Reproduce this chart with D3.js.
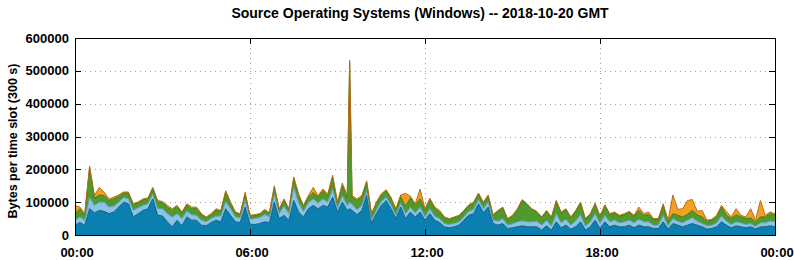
<!DOCTYPE html>
<html>
<head>
<meta charset="utf-8">
<script src="https://cdn.jsdelivr.net/npm/d3@7"></script>
<style>
  html, body { margin: 0; padding: 0; background: #ffffff; }
  svg { display: block; }
  text { font-family: "Liberation Sans", Arial, sans-serif; font-weight: bold; fill: #000; }
</style>
</head>
<body>
<svg id="chart" width="794" height="260"></svg>
<script>
// ---- data (values in thousands of bytes per 300 s slot) ----
const titleText = "Source Operating Systems (Windows) -- 2018-10-20 GMT";
const yAxisTitle = "Bytes per time slot (300 s)";
const seriesNames = ["os_a", "os_b", "os_c", "os_d"];
// sample times in minutes after midnight (10-minute steps, plus the 09:25 burst slot)
const slotMinutes = [...d3.range(0, 565, 10), 565, ...d3.range(570, 1441, 10)];

const seriesA = [ // dark blue (bottom)
  30,38,30,80,68,75,72,65,70,85,100,95,55,65,75,80,110,60,58,40,25,45,28,55,45,45,30,28,38,45,
  40,80,60,40,38,85,33,32,35,40,38,100,50,60,45,105,70,55,80,90,80,90,85,115,70,100,75,80,75,
  62,75,120,35,65,90,105,80,50,85,50,70,55,70,45,65,45,38,25,22,25,30,45,60,65,95,68,85,35,
  30,35,20,22,25,28,25,25,25,15,28,15,40,22,30,18,25,40,15,25,45,20,40,25,30,25,25,30,22,
  30,25,25,20,20,40,18,35,30,25,30,35,30,25,18,20,25,40,30,22,28,25,22,25,18,25,25,28,25
];
const seriesB = [ // light blue
  15,17,15,35,22,25,28,20,18,15,14,15,20,18,15,15,15,20,22,25,30,20,22,18,17,15,15,12,12,12,
  18,22,20,15,14,20,15,18,18,22,18,25,15,28,20,40,28,17,18,20,17,20,15,25,12,20,15,20,18,
  15,15,15,10,12,12,10,12,10,12,15,15,12,15,10,15,12,12,10,10,10,10,10,12,13,13,12,15,10,
  12,15,10,12,15,15,15,15,17,15,17,12,25,15,18,12,18,22,12,15,20,15,20,15,15,12,15,15,15,
  18,15,15,10,10,20,10,15,12,12,15,18,12,10,10,10,12,18,12,10,12,12,10,10,8,12,12,15,15
];
const seriesC = [ // green
  20,25,15,90,22,22,20,20,22,18,14,18,17,15,17,15,17,20,18,20,20,22,17,18,18,20,17,12,12,18,
  14,28,17,13,11,20,10,10,10,13,10,20,12,18,12,27,22,15,17,20,18,25,20,35,15,30,25,425,22,
  28,25,25,17,20,20,20,20,17,20,22,28,23,25,20,27,23,20,17,15,17,17,17,17,19,17,17,19,15,
  30,32,18,23,37,62,52,37,27,22,27,25,37,30,29,22,29,35,20,22,28,20,29,22,22,20,22,24,20,
  27,20,22,17,17,30,14,15,18,18,18,22,20,20,14,15,18,27,18,18,22,18,18,17,14,18,18,22,20
];
const seriesD = [ // orange (top)
  25,5,5,5,8,23,10,5,5,4,3,3,3,3,3,3,3,5,4,5,5,3,3,4,5,5,3,3,3,5,
  3,5,3,2,2,5,2,2,2,3,2,5,3,4,3,5,5,3,5,15,5,5,5,7,3,8,5,7,5,
  5,5,5,3,3,3,3,3,3,5,40,5,5,30,5,5,5,5,3,3,3,3,3,3,3,3,3,3,2,
  3,3,2,3,3,3,3,3,3,3,3,3,3,3,3,3,3,3,3,3,4,3,3,3,3,3,3,3,3,
  10,5,8,3,3,5,3,57,18,25,42,33,10,20,3,3,5,5,12,5,18,5,5,28,5,50,5,5,5
];
const yTicks = [0, 100000, 200000, 300000, 400000, 500000, 600000];
const xTickHours = [0, 6, 12, 18, 24];
const xTickLabels = ["00:00", "06:00", "12:00", "18:00", "00:00"];

// ---- layout ----
const W = 794, H = 260;
const plot = { left: 75, right: 775, top: 38, bottom: 235 };
const colors = ["#0a7fb0", "#8cc3e2", "#4f9a2c", "#f2a024"];
const strokes = ["#0b5f86", "#5f9fc4", "#3b7a1c", "#b86e10"];

const rows = seriesA.map((_, i) => ({
  t: slotMinutes[i] / 60,
  os_a: seriesA[i] * 1000,
  os_b: seriesB[i] * 1000,
  os_c: seriesC[i] * 1000,
  os_d: seriesD[i] * 1000
}));

const svg = d3.select("#chart");
const x = d3.scaleLinear().domain([0, 24]).range([plot.left, plot.right]);
const y = d3.scaleLinear().domain([0, 600000]).range([plot.bottom, plot.top]);

// grid
const grid = svg.append("g");
grid.selectAll("line.gy").data(yTicks.filter(v => v > 0 && v < 600000)).join("line")
  .attr("x1", plot.left).attr("x2", plot.right)
  .attr("y1", d => Math.round(y(d)) + 0.5).attr("y2", d => Math.round(y(d)) + 0.5)
  .attr("stroke", "#a0a0a0").attr("stroke-width", 1).attr("stroke-dasharray", "1,4");
grid.selectAll("line.gx").data(xTickHours.filter(h => h > 0 && h < 24)).join("line")
  .attr("x1", d => Math.round(x(d)) + 0.5).attr("x2", d => Math.round(x(d)) + 0.5)
  .attr("y1", plot.top).attr("y2", plot.bottom)
  .attr("stroke", "#a0a0a0").attr("stroke-width", 1).attr("stroke-dasharray", "1,4");

// stacked areas
const stack = d3.stack().keys(seriesNames);
const layers = stack(rows);
const area = d3.area().x(d => x(d.data.t)).y0(d => y(d[0])).y1(d => y(d[1]));
const topLine = d3.line().x(d => x(d.data.t)).y(d => y(d[1]));
const g = svg.append("g");
layers.forEach((layer, k) => {
  g.append("path").datum(layer).attr("d", area).attr("fill", colors[k]).attr("stroke", "none");
});
layers.forEach((layer, k) => {
  g.append("path").datum(layer).attr("d", topLine).attr("fill", "none")
    .attr("stroke", strokes[k]).attr("stroke-width", 1);
});

// frame
svg.append("rect").attr("x", plot.left + 0.5).attr("y", plot.top + 0.5)
  .attr("width", plot.right - plot.left).attr("height", plot.bottom - plot.top)
  .attr("fill", "none").attr("stroke", "#000").attr("stroke-width", 1);

// ticks (inward, mirrored)
const ticks = svg.append("g").attr("stroke", "#000").attr("stroke-width", 1);
yTicks.forEach(v => {
  const yy = Math.round(y(v)) + 0.5;
  ticks.append("line").attr("x1", plot.left).attr("x2", plot.left + 6).attr("y1", yy).attr("y2", yy);
  ticks.append("line").attr("x1", plot.right - 6).attr("x2", plot.right).attr("y1", yy).attr("y2", yy);
});
xTickHours.forEach(h => {
  const xx = Math.round(x(h)) + 0.5;
  ticks.append("line").attr("x1", xx).attr("x2", xx).attr("y1", plot.bottom).attr("y2", plot.bottom - 6);
  ticks.append("line").attr("x1", xx).attr("x2", xx).attr("y1", plot.top).attr("y2", plot.top + 6);
});

// y labels
svg.append("g").selectAll("text").data(yTicks).join("text")
  .attr("x", plot.left - 6).attr("y", d => y(d))
  .attr("text-anchor", "end").attr("dominant-baseline", "central")
  .style("font-size", "13px").text(d => d);

// x labels
svg.append("g").selectAll("text").data(xTickHours).join("text")
  .attr("x", d => x(d) + 2).attr("y", 252)
  .attr("text-anchor", "middle").attr("dominant-baseline", "central")
  .style("font-size", "13px").text((d, i) => xTickLabels[i]);

// title
svg.append("text").attr("x", 420).attr("y", 13)
  .attr("text-anchor", "middle").attr("dominant-baseline", "central")
  .style("font-size", "14px").text(titleText);

// y axis title
svg.append("text").attr("transform", "translate(13,141) rotate(-90)")
  .attr("text-anchor", "middle").attr("dominant-baseline", "central")
  .style("font-size", "12.5px").text(yAxisTitle);
</script>
</body>
</html>
